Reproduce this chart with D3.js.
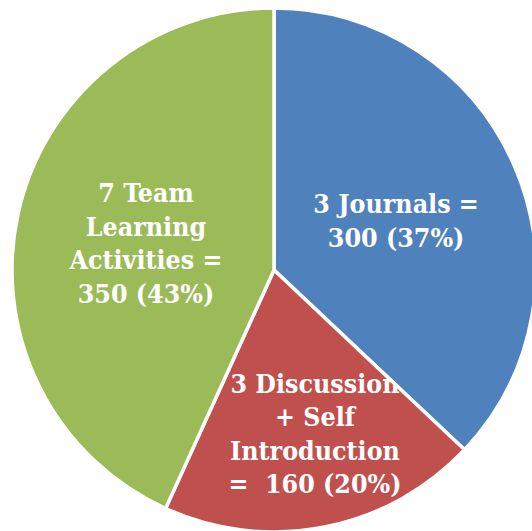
<!DOCTYPE html>
<html>
<head>
<meta charset="utf-8">
<script src="https://cdn.jsdelivr.net/npm/d3@7"></script>
<style>
body { margin: 0; background: #fff; }
</style>
</head>
<body>
<script>
let categories = ["3 Journals", "3 Discussion + Self Introduction", "7 Team Learning Activities"];
let values = [300, 160, 350];
let labelLines = [
	["3 Journals =", "300 (37%)"],
	["3 Discussion", "+ Self", "Introduction", "=  160 (20%)"],
	["7 Team", "Learning", "Activities =", "350 (43%)"]
];
let colors = ["#4F81BD", "#C0504D", "#9BBB59"];

let width = 532, height = 531;
let cx = 274, cy = 270, radius = 262;

let svg = d3.select("body").append("svg")
	.attr("width", width)
	.attr("height", height);

let pie = d3.pie().sort(null).value(d => d)(values);

let arc = d3.arc()
	.innerRadius(0)
	.outerRadius(radius);

let g = svg.append("g").attr("transform", "translate(" + cx + "," + cy + ")");

// each label is cut off at the edge of its own slice (like the "n" of Discussion)
let defs = svg.append("defs");
pie.forEach((d, i) => {
	defs.append("clipPath")
		.attr("id", "clip" + i)
		.append("path")
		.attr("d", d3.arc().innerRadius(0).outerRadius(radius).padAngle(0.012)(d));
});

g.selectAll("path.slice")
	.data(pie)
	.enter()
	.append("path")
	.attr("class", "slice")
	.attr("d", arc)
	.attr("fill", (d, i) => colors[i])
	.attr("stroke", "#fff")
	.attr("stroke-width", 3.5)
	.attr("stroke-linejoin", "miter");

// label placement: distance from centre and a small turn off the slice middle (degrees)
let labelRadius = [132, 168, 131];
let labelTurn = [1, -3, 0];
let lineHeight = 33.5;

pie.forEach((d, i) => {
	let a = (d.startAngle + d.endAngle) / 2 + labelTurn[i] * Math.PI / 180;
	let x = Math.sin(a) * labelRadius[i];
	let y = -Math.cos(a) * labelRadius[i];
	let lines = labelLines[i];
	let t = g.append("text")
		.attr("clip-path", "url(#clip" + i + ")")
		.attr("x", x)
		.attr("y", y - (lines.length - 1) * lineHeight / 2)
		.attr("text-anchor", "middle")
		.attr("dominant-baseline", "central")
		.attr("fill", "#fff")
		.style("font-family", "'DejaVu Serif Condensed', 'DejaVu Serif', serif")
		.style("font-stretch", "condensed")
		.style("font-weight", "bold")
		.style("font-size", "26.5px");
	lines.forEach((l, j) => {
		t.append("tspan")
			.attr("x", x)
			.attr("dy", j == 0 ? 0 : lineHeight)
			.style("white-space", "pre")
			.text(l);
	});
});
</script>
</body>
</html>
